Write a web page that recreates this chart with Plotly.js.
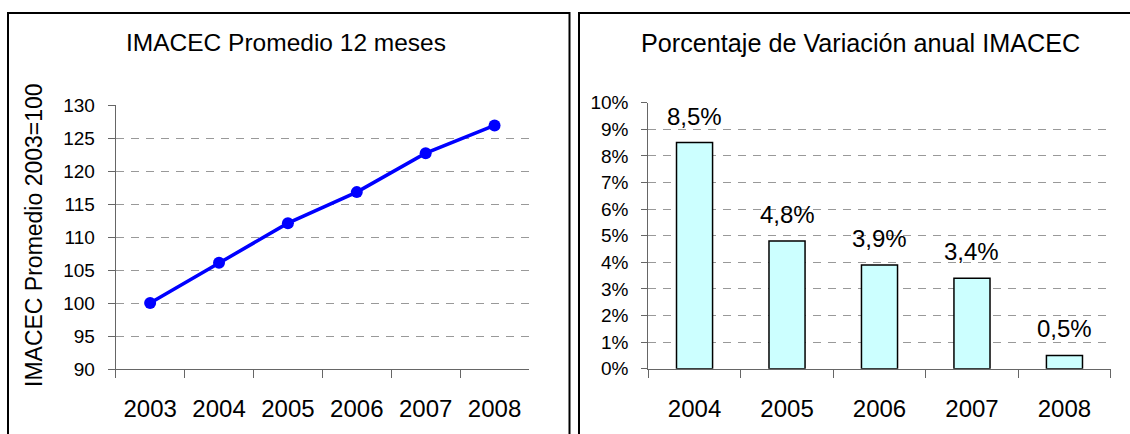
<!DOCTYPE html>
<html>
<head>
<meta charset="utf-8">
<script src="https://cdn.plot.ly/plotly-3.0.1.min.js"></script>
<style>html,body{margin:0;padding:0;background:#fff;}#chart{width:1130px;height:434px;}</style>
</head>
<body>
<div id="chart"></div>
<script>
// ---- data ----
const lineYears = ['2003', '2004', '2005', '2006', '2007', '2008'];
const imacecAvg = [100, 106.1, 112.1, 116.8, 122.7, 126.9];
const barYears = ['2004', '2005', '2006', '2007', '2008'];
const variation = [0.085, 0.048, 0.039, 0.034, 0.005];
const leftTitle = 'IMACEC Promedio 12 meses';
const leftYTitle = 'IMACEC Promedio 2003=100';
const rightTitle = 'Porcentaje de Variación anual IMACEC';

// ---- layout helpers (pixel -> paper) ----
const W = 1130, H = 434;
const px = v => v / W;
const py = v => 1 - v / H;
const FONT = 'Liberation Sans, Arial, sans-serif';

const traces = [
  {
    type: 'scatter', mode: 'lines+markers',
    x: lineYears, y: imacecAvg, xaxis: 'x', yaxis: 'y',
    line: {color: '#0000FF', width: 3.5},
    marker: {color: '#0000FF', size: 12},
    hoverinfo: 'skip'
  },
  {
    type: 'bar',
    x: barYears, y: variation, xaxis: 'x2', yaxis: 'y2',
    marker: {color: '#CCFFFF', line: {color: '#000000', width: 1.5}},
    hoverinfo: 'skip'
  }
];

const gridDash = '8px,7px';
const axisCommon = {
  showline: true, linecolor: '#666666', linewidth: 1,
  ticks: 'outside', tickcolor: '#666666', tickwidth: 1,
  zeroline: false, fixedrange: true
};

// value labels above the bars (category index on the x2 axis, value on y2)
const barLabels = barYears.map((yr, i) => ({
  xref: 'x2', yref: 'y2', x: i, y: variation[i],
  text: (variation[i] * 100).toFixed(1).replace('.', ',') + '%',
  showarrow: false, yanchor: 'bottom', xanchor: 'center', yshift: 11,
  font: {family: FONT, size: 24, color: '#000'}
}));

const layout = {
  width: W, height: H,
  margin: {l: 0, r: 0, t: 0, b: 0},
  paper_bgcolor: '#ffffff', plot_bgcolor: '#ffffff',
  showlegend: false,
  separators: ',.',
  font: {family: FONT, color: '#000'},
  xaxis: Object.assign({}, axisCommon, {
    domain: [px(115.7), px(529)], anchor: 'y',
    type: 'category', range: [-0.5, 5.5], tickson: 'boundaries',
    ticklen: 8, showgrid: false,
    tickfont: {family: FONT, size: 24, color: '#000'}, ticklabelstandoff: 18
  }),
  yaxis: Object.assign({}, axisCommon, {
    domain: [py(369), py(105)], anchor: 'x',
    range: [90, 130], dtick: 5, ticklen: 7,
    showgrid: true, gridcolor: '#999999', gridwidth: 1, griddash: gridDash,
    tickfont: {family: FONT, size: 19, color: '#000'}, ticklabelstandoff: 9
  }),
  xaxis2: Object.assign({}, axisCommon, {
    domain: [px(648.3), px(1110.7)], anchor: 'y2',
    type: 'category', range: [-0.5, 4.5], tickson: 'boundaries',
    ticklen: 8, showgrid: false,
    tickfont: {family: FONT, size: 24, color: '#000'}, ticklabelstandoff: 18
  }),
  yaxis2: Object.assign({}, axisCommon, {
    domain: [py(368.7), py(102.7)], anchor: 'x2',
    range: [0, 0.10], dtick: 0.01, tickformat: '.0%', ticklen: 6,
    showgrid: true, gridcolor: '#999999', gridwidth: 1, griddash: gridDash,
    tickfont: {family: FONT, size: 19, color: '#000'}, ticklabelstandoff: 9
  }),
  bargap: 0.61,
  shapes: [
    {type: 'rect', xref: 'paper', yref: 'paper', x0: px(8), x1: px(569.5), y0: -0.1, y1: py(13),
     line: {color: '#000000', width: 2}, fillcolor: 'rgba(0,0,0,0)', layer: 'below'},
    {type: 'rect', xref: 'paper', yref: 'paper', x0: px(579), x1: 1.1, y0: -0.1, y1: py(13),
     line: {color: '#000000', width: 2}, fillcolor: 'rgba(0,0,0,0)', layer: 'below'}
  ],
  annotations: [
    {xref: 'paper', yref: 'paper', x: px(285.5), y: py(43), text: leftTitle, showarrow: false,
     xanchor: 'center', yanchor: 'middle', font: {family: FONT, size: 24.5, color: '#000'}},
    {xref: 'paper', yref: 'paper', x: px(860.5), y: py(43), text: rightTitle, showarrow: false,
     xanchor: 'center', yanchor: 'middle', font: {family: FONT, size: 25.2, color: '#000'}},
    {xref: 'paper', yref: 'paper', x: px(33.5), y: py(235.5), text: leftYTitle, showarrow: false,
     textangle: -90, xanchor: 'center', yanchor: 'middle', font: {family: FONT, size: 23, color: '#000'}}
  ].concat(barLabels)
};

Plotly.newPlot('chart', traces, layout, {staticPlot: true, displayModeBar: false});
</script>
</body>
</html>
